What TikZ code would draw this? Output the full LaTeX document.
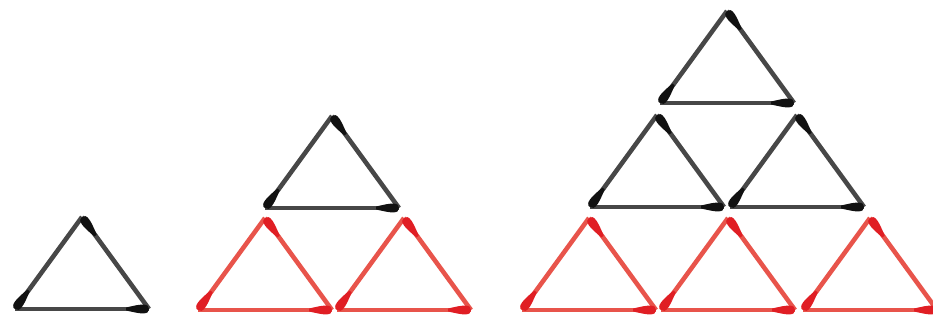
\documentclass[tikz,border=0pt]{standalone}
\usepackage{tikz}
\definecolor{blkstick}{HTML}{474747}
\definecolor{blkhead}{HTML}{111111}
\definecolor{redstick}{HTML}{E8544B}
\definecolor{redhead}{HTML}{E01E24}

\begin{document}
\begin{tikzpicture}[
  stick/.style={line width=1.3pt},
  head/.pic={\fill (0,0) .. controls (0,0.058) and (0.07,0.055) .. (0.23,0.014)
     -- (0.23,-0.014) .. controls (0.07,-0.055) and (0,-0.058) .. (0,0);},
  pics/tri/.style={code={
    \draw[stick,#1stick] (0,0) -- (\w/2,\h);
    \draw[stick,#1stick] (\w/2,\h) -- (\w,0);
    \draw[stick,#1stick] (0,0) -- (\w,0);
    \pic[#1head, rotate=\a] at (0,0) {head};
    \pic[#1head, rotate=-\a] at (\w/2,\h) {head};
    \pic[#1head, rotate=180] at (\w,0) {head};
  }},
]
\def\w{1.34} % base of one triangle
\def\h{0.92} % its height
\pgfmathsetmacro\a{atan(\h/(0.5*\w))}
\useasboundingbox (0,0) rectangle (9.33,3.21);
% one triangle
\pic at (0.15,0.12) {tri=blk};
% three triangles
\pic at (2.65,1.13) {tri=blk};
\foreach \x in {1.98,3.37}
  \pic at (\x,0.11) {tri=red};
% six triangles
\pic at (6.60,2.18) {tri=blk};
\foreach \x in {5.90,7.30}
  \pic at (\x,1.14) {tri=blk};
\foreach \x in {5.22,6.61,8.03}
  \pic at (\x,0.11) {tri=red};
\end{tikzpicture}
\end{document}
